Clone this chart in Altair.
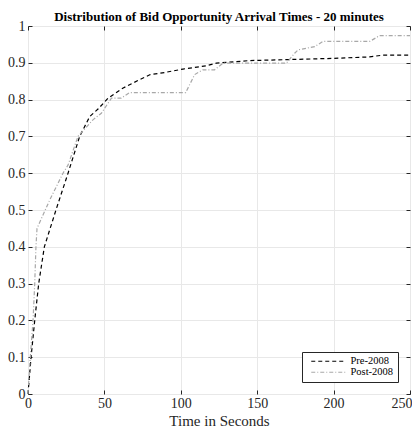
import altair as alt
import pandas as pd

pre_t = [0, 2, 4.4, 7, 10.7, 18.3, 26.2, 33.8, 40.4, 46, 52.4, 62, 73, 80, 90,
         101.4, 116.7, 123.3, 145, 163.6, 199.6, 223.6, 232.4, 250]
pre_p = [0, 0.1, 0.2, 0.3, 0.4, 0.5, 0.6, 0.7, 0.754, 0.775, 0.804, 0.831, 0.854,
         0.868, 0.874, 0.883, 0.892, 0.899, 0.906, 0.908, 0.912, 0.916, 0.921, 0.921]

post_t = [0, 1.5, 3.3, 4.4, 5.2, 5.9, 14.2, 22.9, 26.2, 32.7, 42.5, 48, 54.6, 61,
          66.6, 103.2, 109.1, 114.5, 122.1, 127.6, 169.1, 174.5, 176.7, 187.6, 193,
          223.6, 230.2, 250]
post_p = [0, 0.1, 0.2, 0.3, 0.4, 0.45, 0.527, 0.6, 0.622, 0.7, 0.745, 0.763, 0.804,
          0.804, 0.819, 0.819, 0.868, 0.881, 0.881, 0.899, 0.899, 0.926, 0.935, 0.944,
          0.958, 0.958, 0.974, 0.974]

series = ["Pre-2008", "Post-2008"]
x_ticks = [0, 50, 100, 150, 200, 250]
y_ticks = [0, 0.1, 0.2, 0.3, 0.4, 0.5, 0.6, 0.7, 0.8, 0.9, 1]

rows = []
for i, (t, p) in enumerate(zip(pre_t, pre_p)):
    rows.append({"t": t, "p": p, "s": series[0], "o": i})
for i, (t, p) in enumerate(zip(post_t, post_p)):
    rows.append({"t": t, "p": p, "s": series[1], "o": i})
df = pd.DataFrame(rows)

FONT = "Liberation Serif"
TXT = "#262626"

xscale = alt.Scale(domain=[0, 250], nice=False, zero=False)
yscale = alt.Scale(domain=[0, 1], nice=False)

lines = alt.Chart(df).mark_line(strokeWidth=1.2).encode(
    x=alt.X("t:Q", scale=xscale, axis=alt.Axis(
        values=x_ticks, title="Time in Seconds", offset=-4, tickSize=4,
        domain=False, grid=True, gridColor="#e8e8e8", tickColor=TXT,
        labelPadding=2, labelFont=FONT, labelFontSize=14, labelColor=TXT,
        labelAlign={"condition": {"test": "datum.value == 250", "value": "right"}, "value": "center"},
        labelOffset={"condition": {"test": "datum.value == 250", "value": 2}, "value": 0},
        titleFont=FONT, titleFontSize=15, titleFontWeight="normal",
        titleColor=TXT, titlePadding=3)),
    y=alt.Y("p:Q", scale=yscale, axis=alt.Axis(
        values=y_ticks, title=None, offset=-4, tickSize=4, domain=False,
        grid=True, gridColor="#e8e8e8", tickColor=TXT, labelPadding=3,
        labelFont=FONT, labelFontSize=14, labelColor=TXT,
        labelExpr="datum.value == 0 ? '0' : datum.value == 1 ? '1' : format(datum.value, '.1f')")),
    color=alt.Color("s:N", scale=alt.Scale(domain=series, range=["#000000", "#a8a8a8"]),
                    legend=alt.Legend(title=None, orient="bottom-right", offset=12,
                                      fillColor="white", strokeColor=TXT,
                                      padding=4, symbolType="M0,0H11.5",
                                      symbolSize=36, symbolStrokeWidth=1.2,
                                      labelFont=FONT, labelFontSize=10.5,
                                      labelColor="#000000", rowPadding=0,
                                      labelOffset=34)),
    strokeDash=alt.StrokeDash("s:N", scale=alt.Scale(domain=series, range=[[4, 3], [4, 2, 1, 2]]),
                              legend=alt.Legend(title=None)),
    order="o:Q",
)

frame = alt.Chart(df).mark_line(opacity=0).encode(
    x=alt.X("t:Q", scale=xscale, axis=alt.Axis(
        values=x_ticks, orient="top", labels=False, title=None, offset=-4,
        tickSize=4, domain=False, grid=False, tickColor=TXT)),
    y=alt.Y("p:Q", scale=yscale, axis=alt.Axis(
        values=y_ticks, orient="right", labels=False, title=None, offset=-4,
        tickSize=4, domain=False, grid=False, tickColor=TXT)),
    detail="s:N",
)

chart = alt.layer(frame, lines).resolve_axis(
    x="independent", y="independent"
).properties(
    width=382, height=368,
    title=alt.TitleParams("Distribution of Bid Opportunity Arrival Times - 20 minutes",
                          font=FONT, fontSize=13, fontWeight="bold", color="#000000",
                          anchor="middle", offset=3, dy=8),
    autosize=alt.AutoSizeParams(type="none"),
    padding={"left": 20, "top": 18, "right": 2, "bottom": 33},
).configure_view(stroke=TXT, strokeWidth=1)

chart.save("out.html", embed_options={"renderer": "svg", "actions": False})
